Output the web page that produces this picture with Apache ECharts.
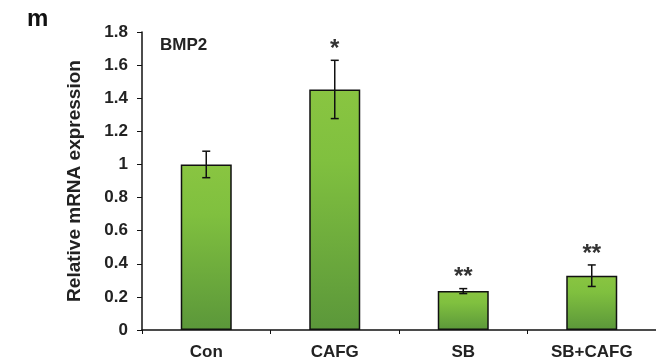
<!DOCTYPE html>
<html><head><meta charset="utf-8">
<script src="https://cdn.jsdelivr.net/npm/echarts@6/dist/echarts.min.js"></script>
<style>html,body{margin:0;padding:0;background:#fff}#c{width:656px;height:363px}</style>
</head><body><div id="c"></div>
<script>
const categories = ['Con', 'CAFG', 'SB', 'SB+CAFG'];
const values = [1.0, 1.453, 0.235, 0.328];
const errors = [0.08, 0.176, 0.015, 0.065];
const stars = ['', '*', '**', '**'];
const yTicks = [0, 0.2, 0.4, 0.6, 0.8, 1, 1.2, 1.4, 1.6, 1.8];

const chart = echarts.init(document.getElementById('c'));
const font = 'Liberation Sans, Arial, sans-serif';
chart.setOption({
  animation: false,
  grid: { left: 142, right: 0, top: 32, bottom: 33 },
  graphic: [
    { type: 'text', left: 27, top: 7, style: { text: 'm', font: 'bold 24px ' + font, fill: '#111' } },
    { type: 'text', left: 160, top: 37, style: { text: 'BMP2', font: 'bold 17px ' + font, fill: '#222' } }
  ],
  xAxis: {
    type: 'category', data: categories,
    axisLine: { lineStyle: { color: '#111', width: 1.5 } },
    axisTick: { show: true, length: 4, lineStyle: { color: '#111' } },
    axisLabel: { color: '#222', fontWeight: 'bold', fontSize: 17, fontFamily: font, margin: 14 }
  },
  yAxis: {
    type: 'value', min: 0, max: 1.8, interval: 0.2,
    name: 'Relative mRNA expression', nameLocation: 'middle', nameGap: 58,
    nameTextStyle: { color: '#222', fontWeight: 'bold', fontSize: 19, fontFamily: font },
    axisLine: { show: true, lineStyle: { color: '#111', width: 1.5 } },
    axisTick: { show: true, length: 5, lineStyle: { color: '#111' } },
    splitLine: { show: false },
    axisLabel: { color: '#222', fontWeight: 'bold', fontSize: 17, fontFamily: font, margin: 14,
      formatter: v => String(Math.round(v * 10) / 10) }
  },
  series: [
    {
      type: 'bar', data: values, barWidth: 51,
      itemStyle: {
        borderColor: '#111', borderWidth: 1.5,
        color: new echarts.graphic.LinearGradient(0, 0, 0, 1, [
          { offset: 0, color: '#89c541' }, { offset: 0.3, color: '#80c03f' }, { offset: 1, color: '#5b973a' }
        ])
      }
    },
    {
      type: 'custom',
      data: values.map((v, i) => [i, v, errors[i]]),
      renderItem: (params, api) => {
        const i = api.value(0), v = api.value(1), e = api.value(2);
        const hi = api.coord([i, v + e]);
        const lo = api.coord([i, v - e]);
        const x = hi[0];
        const w = 4;
        const children = [
          { type: 'line', shape: { x1: x, y1: hi[1], x2: x, y2: lo[1] }, style: { stroke: '#111', lineWidth: 1.5 } },
          { type: 'line', shape: { x1: x - w, y1: hi[1], x2: x + w, y2: hi[1] }, style: { stroke: '#111', lineWidth: 1.5 } },
          { type: 'line', shape: { x1: x - w, y1: lo[1], x2: x + w, y2: lo[1] }, style: { stroke: '#111', lineWidth: 1.5 } }
        ];
        const s = stars[params.dataIndex];
        if (s) {
          children.push({ type: 'text', style: { text: s, x: x, y: hi[1] + 1, align: 'center', verticalAlign: 'bottom',
            font: 'bold 24px ' + font, fill: '#333' } });
        }
        return { type: 'group', children };
      },
      z: 10
    }
  ]
});
</script></body></html>
